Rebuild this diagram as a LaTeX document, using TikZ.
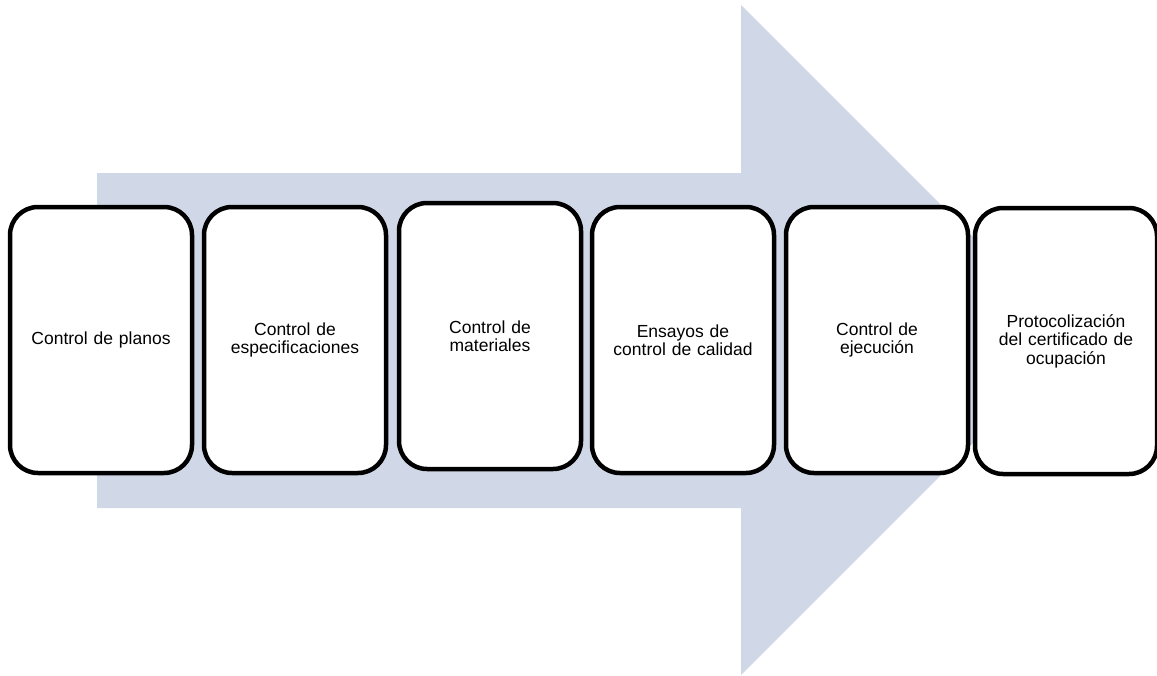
\documentclass[tikz,border=0pt]{standalone}
\usepackage{fontspec}
\setmainfont{Liberation Sans}
\definecolor{arrowfill}{HTML}{D0D8E8}
\begin{document}
\begin{tikzpicture}[x=1pt,y=-1pt,
  card/.style={draw=black, line width=4.5pt, rounded corners=28pt, fill=white,
    minimum width=182pt, minimum height=266pt, align=center, inner sep=2pt,
    text width=165pt, font=\fontsize{17.5pt}{18.5pt}\selectfont},
]
\useasboundingbox (0,0) rectangle (1157,675);
\fill[arrowfill] (97,173) -- (741,173) -- (741,5) -- (1076,340) -- (741,675) -- (741,508) -- (97,508) -- cycle;
\node[card] (b1) at (101,340) {Control de planos};
\node[card] (b2) at (295,340) {Control de\\especificaciones};
\node[card] (b3) at (490,336) {Control de\\materiales};
\node[card] (b4) at (683,340) {Ensayos de\\control de calidad};
\node[card] (b5) at (877,340) {Control de\\ejecución};
\node[card] (b6) at (1066,341) {Protocolización\\del certificado de\\ocupación};
\end{tikzpicture}
\end{document}
